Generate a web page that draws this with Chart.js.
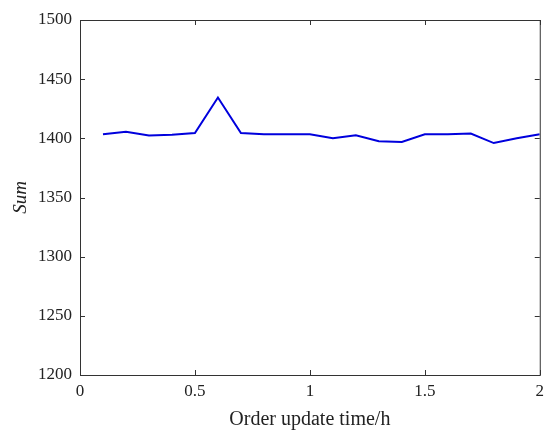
<!DOCTYPE html>
<html lang="en">
<head>
    <meta charset="UTF-8">
    <title>Sum vs order update time</title>
    <script src="https://cdn.jsdelivr.net/npm/chart.js"></script>
    <style>
        html, body { margin: 0; padding: 0; background: #fff; }
        .chart-container { width: 550px; height: 436px; position: relative; }
    </style>
</head>
<body>
    <div class="chart-container"><canvas id="chart"></canvas></div>
    <script>
        // order update time (h) and the matching Sum values
        const updateTimes = [0.1, 0.2, 0.3, 0.4, 0.5, 0.6, 0.7, 0.8, 0.9, 1.0,
                             1.1, 1.2, 1.3, 1.4, 1.5, 1.6, 1.7, 1.8, 1.9, 2.0];
        const sumValues = [1403.5, 1405.5, 1402.5, 1403, 1404.5, 1434.5, 1404.5, 1403.5, 1403.5, 1403.5,
                           1400, 1402.5, 1397.5, 1397, 1403.5, 1403.5, 1404, 1396, 1400, 1403.5];
        const xTicks = [0, 0.5, 1, 1.5, 2];
        const yTicks = [1200, 1250, 1300, 1350, 1400, 1450, 1500];

        const serif = "'Liberation Serif', 'DejaVu Serif', serif";

        // box round the plot with short inward ticks on all four sides
        const boxPlugin = {
            id: 'box',
            afterDraw(chart) {
                const { ctx, chartArea: a, scales } = chart;
                ctx.save();
                ctx.strokeStyle = '#333';
                ctx.lineWidth = 1;
                ctx.strokeRect(a.left + 0.5, a.top + 0.5, a.right - a.left, a.bottom - a.top);
                ctx.beginPath();
                const len = 5;
                xTicks.forEach(v => {
                    const px = Math.round(scales.x.getPixelForValue(v)) + 0.5;
                    ctx.moveTo(px, a.bottom); ctx.lineTo(px, a.bottom - len);
                    ctx.moveTo(px, a.top); ctx.lineTo(px, a.top + len);
                });
                yTicks.forEach(v => {
                    const py = Math.round(scales.y.getPixelForValue(v)) + 0.5;
                    ctx.moveTo(a.left, py); ctx.lineTo(a.left + len, py);
                    ctx.moveTo(a.right, py); ctx.lineTo(a.right - len, py);
                });
                ctx.stroke();
                ctx.restore();
            }
        };

        new Chart(document.getElementById('chart').getContext('2d'), {
            type: 'line',
            data: {
                datasets: [{
                    data: updateTimes.map((t, i) => ({ x: t, y: sumValues[i] })),
                    borderColor: '#0000dd',
                    borderWidth: 2,
                    pointRadius: 0,
                    tension: 0,
                    fill: false
                }]
            },
            options: {
                responsive: true,
                maintainAspectRatio: false,
                animation: false,
                layout: { padding: { top: 20, right: 9, left: 0, bottom: 0 } },
                plugins: { legend: { display: false }, tooltip: { enabled: false } },
                scales: {
                    x: {
                        type: 'linear',
                        min: 0, max: 2,
                        afterBuildTicks: s => { s.ticks = xTicks.map(v => ({ value: v })); },
                        afterFit: s => { s.height = 61; },
                        grid: { display: false, drawTicks: false },
                        border: { display: false },
                        ticks: {
                            color: '#222', font: { family: serif, size: 17 }, padding: 6, maxRotation: 0,
                            callback: v => String(v)
                        },
                        title: {
                            display: true,
                            text: 'Order update time/h',
                            color: '#222',
                            font: { family: serif, size: 20 },
                            padding: { top: 3 }
                        }
                    },
                    y: {
                        min: 1200, max: 1500,
                        afterBuildTicks: s => { s.ticks = yTicks.map(v => ({ value: v })); },
                        afterFit: s => { s.width = 80; },
                        grid: { display: false, drawTicks: false },
                        border: { display: false },
                        ticks: {
                            color: '#222', font: { family: serif, size: 17 }, padding: 8,
                            callback: v => String(v)
                        },
                        title: {
                            display: true,
                            text: 'Sum',
                            color: '#222',
                            font: { family: serif, size: 19, style: 'italic' },
                            padding: { top: 10, bottom: 4 }
                        }
                    }
                }
            },
            plugins: [boxPlugin]
        });
    </script>
</body>
</html>
